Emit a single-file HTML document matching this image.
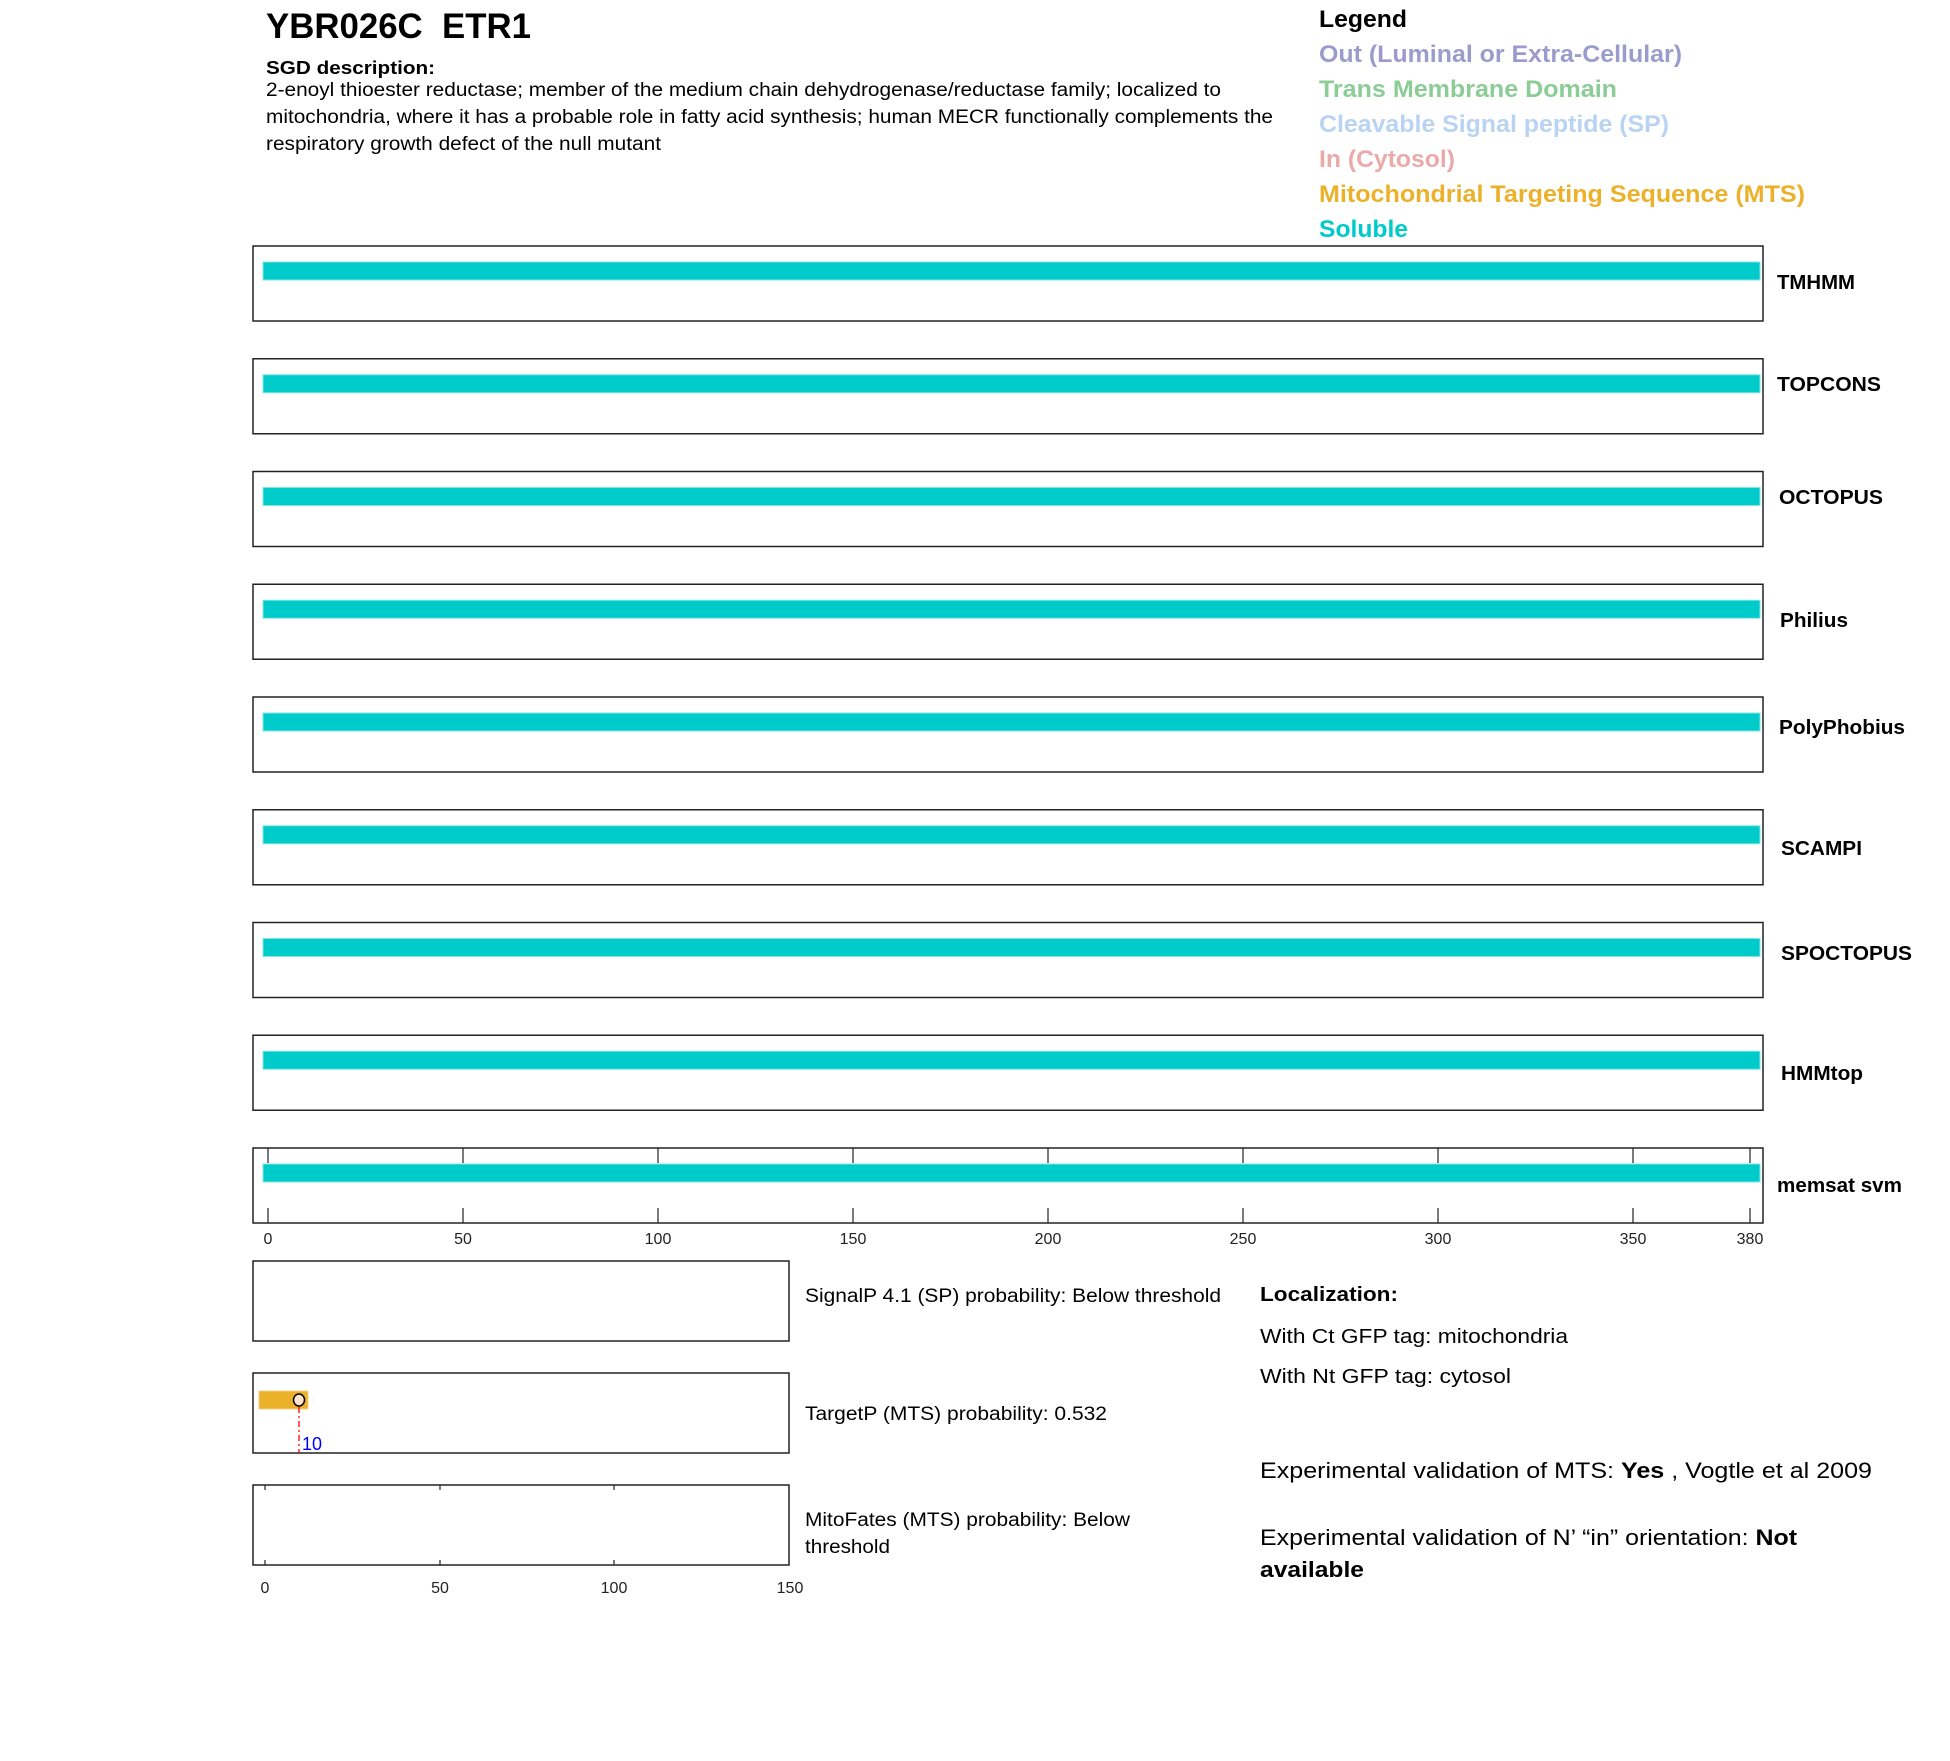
<!DOCTYPE html>
<html><head><meta charset="utf-8"><style>
html,body{margin:0;padding:0;background:#fff;}
svg{display:block;font-family:"Liberation Sans",Arial,sans-serif;}
</style></head><body>
<svg width="1950" height="1761" viewBox="0 0 1950 1761" xmlns="http://www.w3.org/2000/svg">
<rect width="1950" height="1761" fill="#fff"/>
<text x="266" y="38" font-size="35" font-weight="bold" textLength="265" lengthAdjust="spacingAndGlyphs">YBR026C&#160;&#160;ETR1</text>
<text x="266" y="74" font-size="18" font-weight="bold" textLength="169" lengthAdjust="spacingAndGlyphs">SGD description:</text>
<g font-size="19">
<text x="266" y="96" textLength="955" lengthAdjust="spacingAndGlyphs">2-enoyl thioester reductase; member of the medium chain dehydrogenase/reductase family; localized to</text>
<text x="266" y="123" textLength="1007" lengthAdjust="spacingAndGlyphs">mitochondria, where it has a probable role in fatty acid synthesis; human MECR functionally complements the</text>
<text x="266" y="150" textLength="395" lengthAdjust="spacingAndGlyphs">respiratory growth defect of the null mutant</text>
</g>
<g font-size="24" font-weight="bold">
<text x="1319" y="27" textLength="88" lengthAdjust="spacingAndGlyphs" fill="#000">Legend</text>
<text x="1319" y="62" textLength="363" lengthAdjust="spacingAndGlyphs" fill="#9c9ccc">Out (Luminal or Extra-Cellular)</text>
<text x="1319" y="97" textLength="298" lengthAdjust="spacingAndGlyphs" fill="#8ccc96">Trans Membrane Domain</text>
<text x="1319" y="132" textLength="350" lengthAdjust="spacingAndGlyphs" fill="#b8d4f2">Cleavable Signal peptide (SP)</text>
<text x="1319" y="167" textLength="136" lengthAdjust="spacingAndGlyphs" fill="#eaaaaa">In (Cytosol)</text>
<text x="1319" y="202" textLength="486" lengthAdjust="spacingAndGlyphs" fill="#ebb12a">Mitochondrial Targeting Sequence (MTS)</text>
<text x="1319" y="237" textLength="89" lengthAdjust="spacingAndGlyphs" fill="#00cbcb">Soluble</text>
</g>
<g stroke="#222" stroke-width="1.5" fill="none">
<rect x="253" y="246" width="1510" height="75"/>
<rect x="253" y="358.75" width="1510" height="75"/>
<rect x="253" y="471.5" width="1510" height="75"/>
<rect x="253" y="584.25" width="1510" height="75"/>
<rect x="253" y="697" width="1510" height="75"/>
<rect x="253" y="809.75" width="1510" height="75"/>
<rect x="253" y="922.5" width="1510" height="75"/>
<rect x="253" y="1035.25" width="1510" height="75"/>
<rect x="253" y="1148" width="1510" height="75"/>
</g>
<g fill="#00cbcb" stroke="#7fe5e5" stroke-width="1">
<rect x="263" y="262" width="1497" height="18"/>
<rect x="263" y="374.75" width="1497" height="18"/>
<rect x="263" y="487.5" width="1497" height="18"/>
<rect x="263" y="600.25" width="1497" height="18"/>
<rect x="263" y="713" width="1497" height="18"/>
<rect x="263" y="825.75" width="1497" height="18"/>
<rect x="263" y="938.5" width="1497" height="18"/>
<rect x="263" y="1051.25" width="1497" height="18"/>
<rect x="263" y="1164" width="1497" height="18"/>
</g>
<g font-size="20" font-weight="bold">
<text x="1777" y="289" textLength="78" lengthAdjust="spacingAndGlyphs">TMHMM</text>
<text x="1777" y="391" textLength="104" lengthAdjust="spacingAndGlyphs">TOPCONS</text>
<text x="1779" y="504" textLength="104" lengthAdjust="spacingAndGlyphs">OCTOPUS</text>
<text x="1780" y="627" textLength="68" lengthAdjust="spacingAndGlyphs">Philius</text>
<text x="1779" y="734" textLength="126" lengthAdjust="spacingAndGlyphs">PolyPhobius</text>
<text x="1781" y="855" textLength="81" lengthAdjust="spacingAndGlyphs">SCAMPI</text>
<text x="1781" y="960" textLength="131" lengthAdjust="spacingAndGlyphs">SPOCTOPUS</text>
<text x="1781" y="1080" textLength="82" lengthAdjust="spacingAndGlyphs">HMMtop</text>
<text x="1777" y="1192" textLength="125" lengthAdjust="spacingAndGlyphs">memsat svm</text>
</g>
<g stroke="#222" stroke-width="1.2">
<line x1="268" y1="1148" x2="268" y2="1163"/><line x1="268" y1="1208" x2="268" y2="1223"/>
<line x1="463" y1="1148" x2="463" y2="1163"/><line x1="463" y1="1208" x2="463" y2="1223"/>
<line x1="658" y1="1148" x2="658" y2="1163"/><line x1="658" y1="1208" x2="658" y2="1223"/>
<line x1="853" y1="1148" x2="853" y2="1163"/><line x1="853" y1="1208" x2="853" y2="1223"/>
<line x1="1048" y1="1148" x2="1048" y2="1163"/><line x1="1048" y1="1208" x2="1048" y2="1223"/>
<line x1="1243" y1="1148" x2="1243" y2="1163"/><line x1="1243" y1="1208" x2="1243" y2="1223"/>
<line x1="1438" y1="1148" x2="1438" y2="1163"/><line x1="1438" y1="1208" x2="1438" y2="1223"/>
<line x1="1633" y1="1148" x2="1633" y2="1163"/><line x1="1633" y1="1208" x2="1633" y2="1223"/>
<line x1="1750" y1="1148" x2="1750" y2="1163"/><line x1="1750" y1="1208" x2="1750" y2="1223"/>
</g>
<g font-size="16" text-anchor="middle" fill="#222">
<text x="268" y="1244">0</text><text x="463" y="1244">50</text><text x="658" y="1244">100</text>
<text x="853" y="1244">150</text><text x="1048" y="1244">200</text><text x="1243" y="1244">250</text>
<text x="1438" y="1244">300</text><text x="1633" y="1244">350</text><text x="1750" y="1244">380</text>
</g>
<g stroke="#222" stroke-width="1.5" fill="none">
<rect x="253" y="1261" width="536" height="80"/>
<rect x="253" y="1373" width="536" height="80"/>
<rect x="253" y="1485" width="536" height="80"/>
</g>
<rect x="259" y="1391" width="49" height="18" fill="#ebb12a" stroke="#f3cf80" stroke-width="1"/>
<line x1="299" y1="1407" x2="299" y2="1453" stroke="#f00" stroke-width="1.3" stroke-dasharray="6,3,2,3"/>
<ellipse cx="299" cy="1400" rx="5.5" ry="6" fill="#fde2cc" stroke="#000" stroke-width="1.5"/>
<text x="302" y="1450" font-size="18" fill="#00f">10</text>
<g stroke="#222" stroke-width="1.2">
<line x1="265" y1="1485" x2="265" y2="1490"/><line x1="265" y1="1560" x2="265" y2="1565"/>
<line x1="440" y1="1485" x2="440" y2="1490"/><line x1="440" y1="1560" x2="440" y2="1565"/>
<line x1="614" y1="1485" x2="614" y2="1490"/><line x1="614" y1="1560" x2="614" y2="1565"/>
</g>
<g font-size="16" text-anchor="middle" fill="#222">
<text x="265" y="1593">0</text><text x="440" y="1593">50</text><text x="614" y="1593">100</text><text x="790" y="1593">150</text>
</g>
<g font-size="19">
<text x="805" y="1302" textLength="416" lengthAdjust="spacingAndGlyphs">SignalP 4.1 (SP) probability: Below threshold</text>
<text x="805" y="1420" textLength="302" lengthAdjust="spacingAndGlyphs">TargetP (MTS) probability: 0.532</text>
<text x="805" y="1526" textLength="325" lengthAdjust="spacingAndGlyphs">MitoFates (MTS) probability: Below</text>
<text x="805" y="1553" textLength="85" lengthAdjust="spacingAndGlyphs">threshold</text>
</g>
<text x="1260" y="1301" font-size="20" font-weight="bold" textLength="138" lengthAdjust="spacingAndGlyphs">Localization:</text>
<text x="1260" y="1343" font-size="20" textLength="308" lengthAdjust="spacingAndGlyphs">With Ct GFP tag: mitochondria</text>
<text x="1260" y="1383" font-size="20" textLength="251" lengthAdjust="spacingAndGlyphs">With Nt GFP tag: cytosol</text>
<text x="1260" y="1478" font-size="22" textLength="612" lengthAdjust="spacingAndGlyphs">Experimental validation of MTS: <tspan font-weight="bold">Yes</tspan> , Vogtle et al 2009</text>
<text x="1260" y="1545" font-size="22" textLength="537" lengthAdjust="spacingAndGlyphs">Experimental validation of N’ “in” orientation: <tspan font-weight="bold">Not</tspan></text>
<text x="1260" y="1577" font-size="22" font-weight="bold" textLength="104" lengthAdjust="spacingAndGlyphs">available</text>
</svg>
</body></html>
